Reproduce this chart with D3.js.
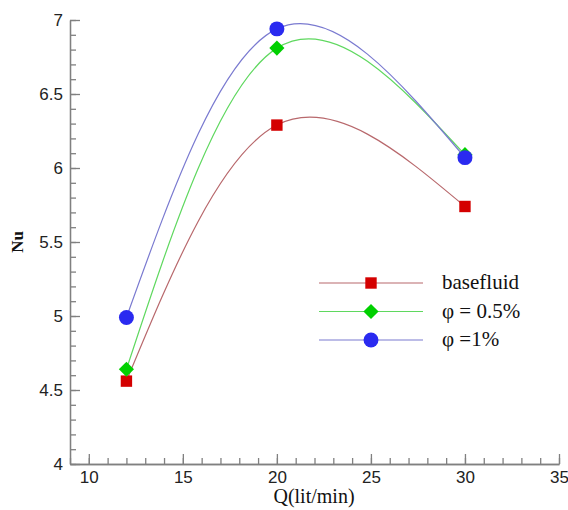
<!DOCTYPE html>
<html lang="en">
  <head>
    <meta charset="UTF-8" />
    <title>Nu vs Q</title>
    <script src="https://cdn.jsdelivr.net/npm/d3@7"></script>
    <style>
      body { margin: 0; background: #fff; }
      .axis path, .axis line { stroke: #808080; stroke-width: 1.3; }
      .axis text { font-family: "Liberation Sans", Arial, sans-serif; font-size: 17px; fill: #222; }
      .title { font-family: "Liberation Serif", "Times New Roman", serif; fill: #111; }
      .legend text { font-family: "Liberation Serif", "Times New Roman", serif; font-size: 21px; fill: #111; }
    </style>
  </head>
  <body>
    <svg id="chart" width="568" height="510"></svg>
    <script>
      // data
      var flowRates = [12, 20, 30];
      var nuBase = [4.56, 6.29, 5.74];
      var nuHalf = [4.64, 6.81, 6.09];
      var nuOne = [4.99, 6.94, 6.07];

      var xTicks = [10, 15, 20, 25, 30, 35];
      var yTicks = [4, 4.5, 5, 5.5, 6, 6.5, 7];
      var seriesNames = ["basefluid", "φ = 0.5%", "φ =1%"];

      var series = [
        { name: seriesNames[0], values: nuBase, line: "#b8686c", fill: "#d40000", shape: d3.symbolSquare, size: 130, rot: 0 },
        { name: seriesNames[1], values: nuHalf, line: "#5fd85f", fill: "#00d000", shape: d3.symbolSquare, size: 115, rot: 45 },
        { name: seriesNames[2], values: nuOne, line: "#7a7ad0", fill: "#2a2af0", shape: d3.symbolCircle, size: 175, rot: 0 }
      ];

      var svg = d3.select("#chart");
      var x = d3.scaleLinear().domain([9, 35]).range([70, 559]);
      var y = d3.scaleLinear().domain([4, 7]).range([464, 20]);

      // minor ticks
      svg.append("g")
        .attr("class", "axis")
        .attr("transform", "translate(0,464)")
        .call(d3.axisBottom(x).tickValues(d3.range(9, 36, 1)).tickSizeInner(-6).tickSizeOuter(0).tickFormat(""));
      svg.append("g")
        .attr("class", "axis")
        .attr("transform", "translate(70,0)")
        .call(d3.axisLeft(y).tickValues(d3.range(40, 71, 1).map(function (d) { return d / 10; })).tickSizeInner(-6).tickSizeOuter(0).tickFormat(""));

      // major ticks
      svg.append("g")
        .attr("class", "axis")
        .attr("transform", "translate(0,464)")
        .call(d3.axisBottom(x).tickValues(xTicks).tickSizeInner(-10).tickSizeOuter(0).tickPadding(7));
      svg.append("g")
        .attr("class", "axis")
        .attr("transform", "translate(70,0)")
        .call(d3.axisLeft(y).tickValues(yTicks).tickSizeInner(-10).tickSizeOuter(0).tickPadding(7).tickFormat(d3.format("")));

      // axis titles
      svg.append("text")
        .attr("class", "title")
        .attr("x", 314)
        .attr("y", 503)
        .attr("text-anchor", "middle")
        .style("font-size", "20px")
        .text("Q(lit/min)");
      svg.append("text")
        .attr("class", "title")
        .attr("transform", "translate(23,242) rotate(-90)")
        .attr("text-anchor", "middle")
        .style("font-size", "17px")
        .style("font-weight", "bold")
        .text("Nu");

      var line = d3.line()
        .x(function (d, i) { return x(flowRates[i]); })
        .y(function (d) { return y(d); })
        .curve(d3.curveNatural);

      series.forEach(function (s) {
        svg.append("path")
          .attr("d", line(s.values))
          .attr("fill", "none")
          .attr("stroke", s.line)
          .attr("stroke-width", 1.2);
      });

      series.forEach(function (s) {
        svg.selectAll(null)
          .data(s.values)
          .enter()
          .append("path")
          .attr("transform", function (d, i) {
            return "translate(" + x(flowRates[i]) + "," + y(d) + ") rotate(" + s.rot + ")";
          })
          .attr("d", d3.symbol().type(s.shape).size(s.size))
          .attr("fill", s.fill);
      });

      // legend
      var legend = svg.append("g").attr("class", "legend");
      series.forEach(function (s, i) {
        var ly = 283 + i * 28.5;
        legend.append("line")
          .attr("x1", 319).attr("x2", 423)
          .attr("y1", ly).attr("y2", ly)
          .attr("stroke", s.line)
          .attr("stroke-width", 1.2);
        legend.append("path")
          .attr("transform", "translate(371," + ly + ") rotate(" + s.rot + ")")
          .attr("d", d3.symbol().type(s.shape).size(s.size))
          .attr("fill", s.fill);
        legend.append("text")
          .attr("x", 442)
          .attr("y", ly + 6)
          .text(s.name);
      });
    </script>
  </body>
</html>
